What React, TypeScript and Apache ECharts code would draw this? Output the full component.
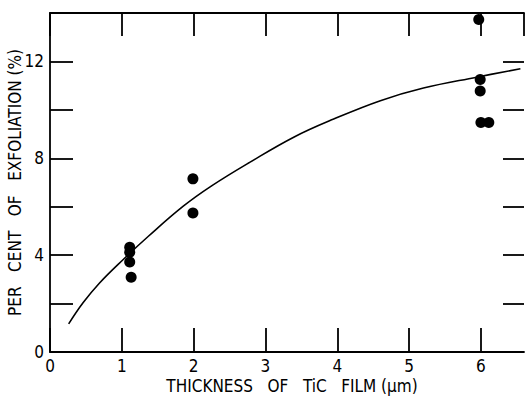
import React, { useEffect, useRef } from "react";
import * as echarts from "echarts";

// Measured points: thickness (µm), per cent exfoliation
const pointX = [5.97, 5.99, 5.99, 6.0, 6.11, 1.99, 1.99, 1.11, 1.11, 1.11, 1.13];
const pointY = [13.73, 11.25, 10.78, 9.48, 9.48, 7.15, 5.74, 4.33, 4.12, 3.72, 3.09];

// Fitted curve
const curveX = [0.26, 0.46, 0.69, 1.02, 1.37, 1.86, 2.25, 2.78, 3.4, 3.95, 4.6, 5.2, 5.94, 6.55];
const curveY = [1.16, 2.03, 2.85, 3.82, 4.78, 6.03, 6.86, 7.83, 8.88, 9.62, 10.38, 10.9, 11.35, 11.7];

const yLabelValues = [0, 4, 8, 12];

const FONT = "'DejaVu Sans Condensed', 'DejaVu Sans', sans-serif";

export default function App() {
  const ref = useRef<HTMLDivElement>(null);
  useEffect(() => {
    if (!ref.current) return;
    const chart = echarts.init(ref.current, null, { renderer: "svg" });
    const lineStyle = { color: "#000", width: 1.8 };
    const label = { color: "#000", fontFamily: FONT, fontSize: 17 };
    chart.setOption({
      animation: false,
      backgroundColor: "#fff",
      grid: { left: 50, top: 13, right: 1, bottom: 44, outerBoundsMode: "none", containLabel: false },
      xAxis: [
        {
          type: "value",
          position: "bottom",
          min: 0,
          max: 6.6,
          interval: 1,
          name: "THICKNESS   OF   TiC   FILM (\u03bcm)",
          nameLocation: "middle",
          nameGap: 26,
          nameMoveOverlap: false,
          nameTextStyle: { ...label, lineHeight: 16, padding: [0, 0, 0, 10] },
          axisLine: { show: true, onZero: false, lineStyle },
          axisTick: { show: true, inside: true, length: 24, lineStyle },
          axisLabel: { ...label, margin: 5, showMaxLabel: false },
          splitLine: { show: false },
        },
        {
          type: "value",
          position: "top",
          min: 0,
          max: 6.6,
          interval: 1,
          axisLine: { show: true, onZero: false, lineStyle },
          axisTick: { show: true, inside: true, length: 23, lineStyle },
          axisLabel: { show: false },
          splitLine: { show: false },
        },
      ],
      yAxis: [
        {
          type: "value",
          position: "left",
          min: 0,
          max: 14,
          interval: 2,
          name: "PER   CENT   OF   EXFOLIATION (%)",
          nameLocation: "middle",
          nameGap: 27,
          nameMoveOverlap: false,
          nameTextStyle: { ...label, lineHeight: 16 },
          axisLine: { show: true, onZero: false, lineStyle },
          axisTick: { show: true, inside: true, length: 23, lineStyle },
          axisLabel: {
            ...label,
            margin: 6,
            formatter: (v: number) => (yLabelValues.includes(v) ? String(v) : ""),
          },
          splitLine: { show: false },
        },
        {
          type: "value",
          position: "right",
          min: 0,
          max: 14,
          interval: 2,
          axisLine: { show: false, onZero: false },
          axisTick: { show: true, inside: true, length: 21, lineStyle },
          axisLabel: { show: false },
          splitLine: { show: false },
        },
      ],
      series: [
        {
          type: "line",
          data: curveX.map((x, i) => [x, curveY[i]]),
          smooth: 0.4,
          showSymbol: false,
          lineStyle: { color: "#000", width: 1.6 },
          z: 2,
        },
        {
          type: "scatter",
          data: pointX.map((x, i) => [x, pointY[i]]),
          symbol: "circle",
          symbolSize: 11,
          itemStyle: { color: "#000", opacity: 1 },
          z: 3,
        },
      ],
    });
    return () => chart.dispose();
  }, []);
  return <div ref={ref} style={{ width: 525, height: 396, position: "absolute", left: 0, top: 0 }} />;
}
